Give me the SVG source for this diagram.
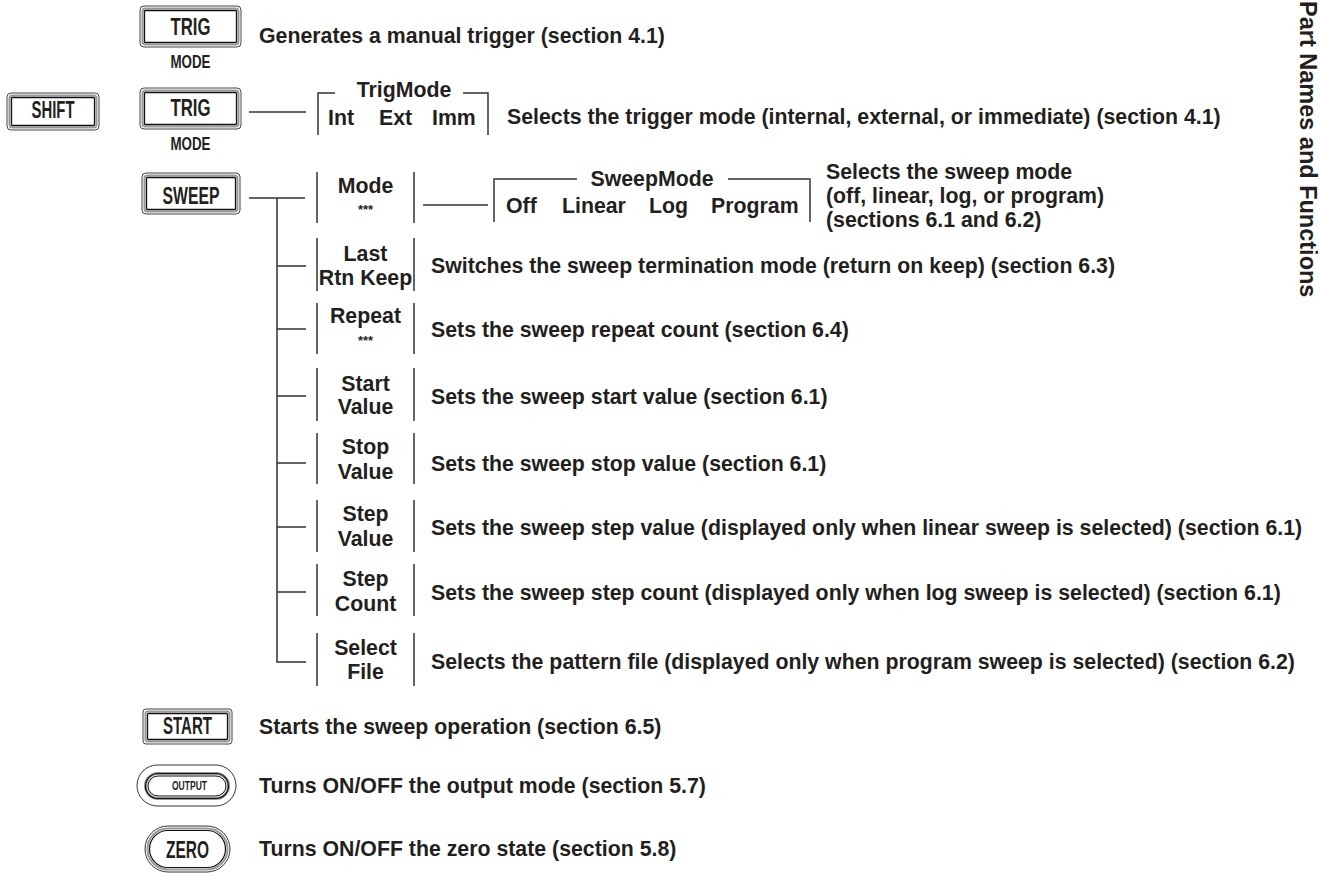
<svg xmlns="http://www.w3.org/2000/svg" width="1320" height="879" viewBox="0 0 1320 879">
<style>
text{font-family:"Liberation Sans",Arial,sans-serif;font-weight:bold;fill:#231f20}
.d{font-size:21.3px}
.i{font-size:21.3px;text-anchor:middle}
.st{font-size:13px;text-anchor:middle}
.k{font-size:23px;text-anchor:middle}
.m{font-size:18px;text-anchor:middle}
.ko{fill:#fff;stroke:#444;stroke-width:1}
.km{fill:none;stroke:#999;stroke-width:2}
.ki{fill:none;stroke:#111;stroke-width:1.3}
.ln{fill:none;stroke:#333;stroke-width:1.5}
</style>
<defs>
<g id="keyTRIG">
<rect class="ko" x="0" y="0" width="101" height="41" rx="4"/>
<rect class="km" x="2.5" y="2.5" width="96" height="36" rx="3"/>
<rect class="ki" x="4.5" y="4.5" width="92" height="32" rx="1"/>
</g>
</defs>

<g id="key-trig1">
<use href="#keyTRIG" x="140" y="6"/>
<text class="k" x="190.5" y="35" textLength="40" lengthAdjust="spacingAndGlyphs">TRIG</text>
<text class="m" x="190.5" y="68" textLength="40" lengthAdjust="spacingAndGlyphs">MODE</text>
</g>
<text class="d" x="259" y="43">Generates a manual trigger (section 4.1)</text>

<g id="key-shift">
<rect class="ko" x="7" y="93" width="92" height="37" rx="4"/>
<rect class="km" x="9.5" y="95.5" width="87" height="32" rx="3"/>
<rect class="ki" x="11.5" y="97.5" width="83" height="28" rx="1"/>
<text class="k" x="53" y="118" textLength="43" lengthAdjust="spacingAndGlyphs">SHIFT</text>
</g>

<g id="key-trig2">
<use href="#keyTRIG" x="140" y="88"/>
<text class="k" x="190.5" y="116" textLength="40" lengthAdjust="spacingAndGlyphs">TRIG</text>
<text class="m" x="190.5" y="150" textLength="40" lengthAdjust="spacingAndGlyphs">MODE</text>
</g>

<g id="trigmode">
<path class="ln" d="M318,135 V93 H335 M463,93 H488 V135"/>
<text class="i" x="404" y="97">TrigMode</text>
<text class="d" x="328" y="125">Int</text>
<text class="d" x="379" y="125">Ext</text>
<text class="d" x="432" y="125">Imm</text>
</g>
<text class="d" x="507" y="124">Selects the trigger mode (internal, external, or immediate) (section 4.1)</text>

<g id="key-sweep">
<rect class="ko" x="142" y="173" width="98" height="41" rx="4"/>
<rect class="km" x="144.5" y="175.5" width="93" height="36" rx="3"/>
<rect class="ki" x="146.5" y="177.5" width="89" height="32" rx="1"/>
<text class="k" x="191" y="204" textLength="57" lengthAdjust="spacingAndGlyphs">SWEEP</text>
</g>

<g id="connectors">
<path class="ln" d="M249,112 H306"/>
<path class="ln" d="M249,198 H305"/>
<path class="ln" d="M277,198 V662 H306"/>
<path class="ln" d="M277,266 H306 M277,329 H306 M277,396 H306 M277,463 H306 M277,527 H306 M277,592 H306"/>
<path class="ln" d="M423,205 H488"/>
</g>

<g id="item-mode">
<path class="ln" d="M317,172 V223 M414,172 V223"/>
<text class="i" x="365.5" y="193">Mode</text>
<text class="st" x="365.5" y="214">***</text>
</g>

<g id="sweepmode">
<path class="ln" d="M494,222 V179 H577 M728,179 H810 V222"/>
<text class="i" x="652" y="186">SweepMode</text>
<text class="d" x="506" y="213">Off</text>
<text class="d" x="562" y="213">Linear</text>
<text class="d" x="649" y="213">Log</text>
<text class="d" x="711" y="213">Program</text>
</g>
<g id="desc-mode">
<text class="d" x="826" y="179">Selects the sweep mode</text>
<text class="d" x="826" y="203">(off, linear, log, or program)</text>
<text class="d" x="826" y="227">(sections 6.1 and 6.2)</text>
</g>

<g id="item-last">
<path class="ln" d="M317,238 V291 M414,238 V291"/>
<text class="i" x="365.5" y="261">Last</text>
<text class="i" x="365.5" y="285">Rtn Keep</text>
</g>
<text class="d" x="431" y="273">Switches the sweep termination mode (return on keep) (section 6.3)</text>

<g id="item-repeat">
<path class="ln" d="M317,303 V354 M414,303 V354"/>
<text class="i" x="365.5" y="323">Repeat</text>
<text class="st" x="365.5" y="345">***</text>
</g>
<text class="d" x="431" y="337">Sets the sweep repeat count (section 6.4)</text>

<g id="item-start">
<path class="ln" d="M317,368 V421 M414,368 V421"/>
<text class="i" x="365.5" y="391">Start</text>
<text class="i" x="365.5" y="414">Value</text>
</g>
<text class="d" x="431" y="404">Sets the sweep start value (section 6.1)</text>

<g id="item-stop">
<path class="ln" d="M317,433 V484 M414,433 V484"/>
<text class="i" x="365.5" y="454">Stop</text>
<text class="i" x="365.5" y="479">Value</text>
</g>
<text class="d" x="431" y="471">Sets the sweep stop value (section 6.1)</text>

<g id="item-stepvalue">
<path class="ln" d="M317,500 V552 M414,500 V552"/>
<text class="i" x="365.5" y="521">Step</text>
<text class="i" x="365.5" y="546">Value</text>
</g>
<text class="d" x="431" y="535">Sets the sweep step value (displayed only when linear sweep is selected) (section 6.1)</text>

<g id="item-stepcount">
<path class="ln" d="M317,564 V616 M414,564 V616"/>
<text class="i" x="365.5" y="586">Step</text>
<text class="i" x="365.5" y="611">Count</text>
</g>
<text class="d" x="431" y="600">Sets the sweep step count (displayed only when log sweep is selected) (section 6.1)</text>

<g id="item-selectfile">
<path class="ln" d="M317,633 V686 M414,633 V686"/>
<text class="i" x="365.5" y="655">Select</text>
<text class="i" x="365.5" y="679">File</text>
</g>
<text class="d" x="431" y="669">Selects the pattern file (displayed only when program sweep is selected) (section 6.2)</text>

<g id="key-start">
<rect class="ko" x="143" y="709" width="89" height="35" rx="3"/>
<rect class="km" x="145.5" y="711.5" width="84" height="30" rx="2"/>
<rect class="ki" x="147.5" y="713.5" width="80" height="26" rx="1"/>
<text class="k" x="187.5" y="734" textLength="49" lengthAdjust="spacingAndGlyphs">START</text>
</g>
<text class="d" x="259" y="734">Starts the sweep operation (section 6.5)</text>

<g id="key-output">
<rect x="137" y="765" width="99" height="41" rx="20.5" fill="#fff" stroke="#333" stroke-width="1"/>
<rect x="145.5" y="773.5" width="83" height="25" rx="12.5" fill="none" stroke="#999" stroke-width="3"/>
<rect x="145.5" y="773.5" width="83" height="25" rx="12.5" fill="none" stroke="#111" stroke-width="1.2"/>
<rect x="148" y="776" width="78" height="20" rx="10" fill="none" stroke="#111" stroke-width="1"/>
<text class="st" x="189.5" y="790" textLength="35" lengthAdjust="spacingAndGlyphs">OUTPUT</text>
</g>
<text class="d" x="259" y="793">Turns ON/OFF the output mode (section 5.7)</text>

<g id="key-zero">
<rect x="145" y="826" width="85" height="46" rx="23" fill="#fff" stroke="#333" stroke-width="1"/>
<rect x="147.5" y="828.5" width="80" height="41" rx="20.5" fill="none" stroke="#999" stroke-width="2"/>
<rect x="149.5" y="830.5" width="76" height="37" rx="18.5" fill="none" stroke="#111" stroke-width="1.2"/>
<text class="k" x="187.5" y="858" textLength="43" lengthAdjust="spacingAndGlyphs" font-size="24">ZERO</text>
</g>
<text class="d" x="259" y="856">Turns ON/OFF the zero state (section 5.8)</text>

<text transform="translate(1300,1) rotate(90)" x="0" y="0" style="font-size:23.5px">Part Names and Functions</text>
</svg>
